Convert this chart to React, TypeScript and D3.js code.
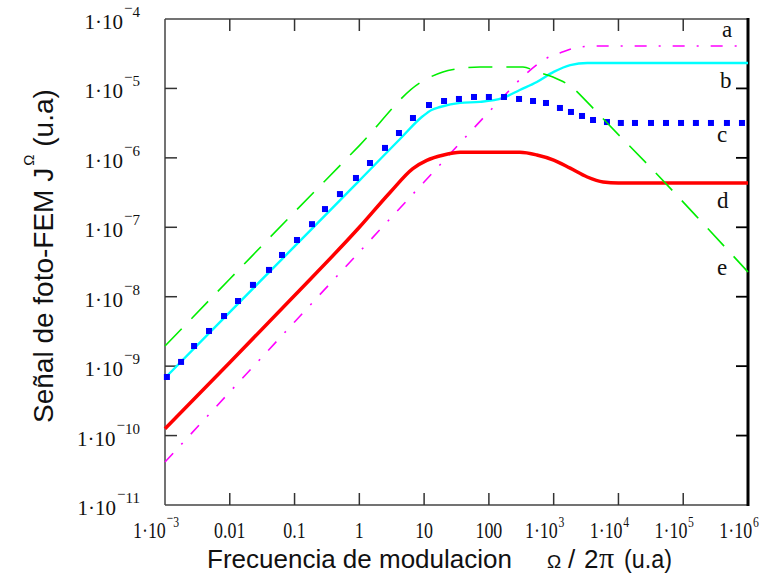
import React from "react";
import * as d3 from "d3";

// Modulation frequency (u.a) and photo-EMF signal (u.a) for each trace
const freqA = [1e-3, 0.01, 0.1, 1, 10, 100, 165, 387, 789, 1250, 2550, 5190, 1e6];
const sigA = [4.16e-11, 4.25e-10, 4.33e-9, 4.41e-8, 4.49e-7, 4.58e-6, 7.5e-6, 1.67e-5, 2.74e-5, 3.24e-5, 3.95e-5, 4.09e-5, 4.09e-5];

const freqB = [1e-3, 0.01, 0.1, 1, 4.25, 9.6, 13, 17.6, 36, 73, 165, 300, 550, 1000, 1800, 3300, 1e6];
const sigB = [6.75e-10, 6.0e-9, 5.3e-8, 4.7e-7, 1.87e-6, 4.0e-6, 4.9e-6, 5.4e-6, 6.2e-6, 6.4e-6, 7.3e-6, 9.5e-6, 1.24e-5, 1.73e-5, 2.17e-5, 2.32e-5, 2.32e-5];

const freqC = [
  1.07e-3, 1.77e-3, 2.81e-3, 4.78e-3, 8.15e-3, 0.0134, 0.0228, 0.0403, 0.064, 0.109,
  0.186, 0.295, 0.502, 0.887, 1.46, 2.49, 4.09, 6.73, 11.9, 20.3,
  34.5, 58.9, 100, 171, 292, 480, 761, 1250, 1850, 2740,
  4050, 6650, 1.09e4, 1.8e4, 3.18e4, 5.42e4, 9.25e4, 1.57e5, 2.68e5, 4.73e5, 8.07e5,
];
const sigC = [
  6.98e-10, 1.15e-9, 1.95e-9, 3.21e-9, 5.27e-9, 8.67e-9, 1.48e-8, 2.43e-8, 3.99e-8, 6.56e-8,
  1.11e-7, 1.83e-7, 3.01e-7, 5.13e-7, 8.43e-7, 1.39e-6, 2.28e-6, 3.75e-6, 5.77e-6, 6.59e-6,
  7.05e-6, 7.53e-6, 7.53e-6, 7.53e-6, 7.05e-6, 6.59e-6, 6.17e-6, 5.23e-6, 4.58e-6, 4.01e-6,
  3.51e-6, 3.28e-6, 3.18e-6, 3.18e-6, 3.18e-6, 3.18e-6, 3.18e-6, 3.18e-6, 3.18e-6, 3.18e-6, 3.18e-6,
];

const freqD = [1e-3, 0.01, 0.1, 1, 3, 6.7, 11, 20, 36, 300, 550, 1000, 1800, 3300, 5800, 1e4, 1e6];
const sigD = [1.25e-10, 1.13e-9, 1.04e-8, 1.0e-7, 3.2e-7, 7.0e-7, 9.2e-7, 1.1e-6, 1.2e-6, 1.2e-6, 1.1e-6, 9.3e-7, 7.1e-7, 5.3e-7, 4.5e-7, 4.35e-7, 4.35e-7];

const freqE = [1e-3, 0.01, 0.1, 1, 8.6, 19.5, 32, 73, 336, 553, 975, 1990, 3270, 6650, 3.4e4, 2.0e5, 1e6];
const sigE = [1.95e-9, 1.8e-8, 1.66e-7, 1.5e-6, 1.2e-5, 1.73e-5, 1.91e-5, 2.04e-5, 2.04e-5, 1.73e-5, 1.46e-5, 1.01e-5, 6.4e-6, 3.2e-6, 6.7e-7, 1.15e-7, 2.27e-8];

// Trace names, placed at the right edge at these signal levels
const curveNames = ["a", "b", "c", "d", "e"];
const curveNameSignal = [5.5e-5, 1.0e-5, 1.69e-6, 1.9e-7, 2.06e-8];

const xTickValues = [1e-3, 1e-2, 1e-1, 1, 10, 100, 1e3, 1e4, 1e5, 1e6];
const xTickBase = ["1·10", "0.01", "0.1", "1", "10", "100", "1·10", "1·10", "1·10", "1·10"];
const xTickExp = ["−3", "", "", "", "", "", "3", "4", "5", "6"];

const yTickValues = [1e-11, 1e-10, 1e-9, 1e-8, 1e-7, 1e-6, 1e-5, 1e-4];
const yTickExp = ["−11", "−10", "−9", "−8", "−7", "−6", "−5", "−4"];

const W = 767;
const H = 584;
const X0 = 165;
const X1 = 748;
const Y0 = 19;
const Y1 = 505;
const TICK = 12;

const x = d3.scaleLog().domain([1e-3, 1e6]).range([X0, X1]);
const y = d3.scaleLog().domain([1e-11, 1e-4]).range([Y1, Y0]);

const zip = (f: number[], s: number[]) => f.map((v, i) => [v, s[i]] as [number, number]);

const line = d3
  .line<[number, number]>()
  .x((d) => x(d[0]))
  .y((d) => y(d[1]))
  .curve(d3.curveMonotoneX);

const serif = "'Liberation Serif', 'Times New Roman', serif";
const sans = "'Liberation Sans', Arial, sans-serif";

function Exponent({ exp, size, rise }: { exp: string; size: number; rise: number }) {
  if (!exp) return null;
  const neg = exp.startsWith("−");
  const digits = neg ? exp.slice(1) : exp;
  if (neg) {
    return (
      <>
        <tspan fontSize={size} dy={-(rise + 4)} dx={1}>
          −
        </tspan>
        <tspan fontSize={size} dy={4}>
          {digits}
        </tspan>
      </>
    );
  }
  return (
    <tspan fontSize={size} dy={-rise} dx={1}>
      {digits}
    </tspan>
  );
}

export default function App() {
  const inner = xTickValues.slice(1, -1);
  const innerY = yTickValues.slice(1, -1);

  return (
    <svg
      width={W}
      height={H}
      style={{ position: "absolute", left: 0, top: 0, background: "#fff" }}
    >
      <rect width={W} height={H} fill="#fff" />

      {/* frame */}
      <line x1={X0} y1={Y0} x2={X1} y2={Y0} stroke="#444" strokeWidth={1.5} />
      <line x1={X0} y1={Y1} x2={X1} y2={Y1} stroke="#444" strokeWidth={1.5} />
      <line x1={X0} y1={Y0} x2={X0} y2={Y1} stroke="#444" strokeWidth={1.5} />
      <line x1={X1} y1={Y0 - 1} x2={X1} y2={Y1 + 1} stroke="#000" strokeWidth={3} />

      {/* ticks */}
      {inner.map((v) => (
        <g key={"xt" + v}>
          <line x1={x(v)} x2={x(v)} y1={Y1} y2={Y1 - TICK} stroke="#333" strokeWidth={1.5} />
          <line x1={x(v)} x2={x(v)} y1={Y0} y2={Y0 + TICK} stroke="#333" strokeWidth={1.5} />
        </g>
      ))}
      {innerY.map((v) => (
        <g key={"yt" + v}>
          <line x1={X0} x2={X0 + TICK} y1={y(v)} y2={y(v)} stroke="#333" strokeWidth={1.5} />
          <line x1={X1} x2={X1 - TICK} y1={y(v)} y2={y(v)} stroke="#000" strokeWidth={1.8} />
        </g>
      ))}

      {/* y tick labels */}
      {yTickValues.map((v, i) => (
        <text
          key={"yl" + v}
          x={140}
          y={y(v) + 10}
          textAnchor="end"
          fontFamily={serif}
          fontSize={21}
          fill="#111"
        >
          1·10
          <Exponent exp={yTickExp[i]} size={15} rise={12} />
        </text>
      ))}

      {/* x tick labels */}
      {xTickValues.map((v, i) => {
        const cx = xTickExp[i] ? x(v) - 9 : x(v);
        return (
          <text
            key={"xl" + v}
            transform={`translate(${cx},${538}) scale(0.78,1)`}
            textAnchor="middle"
            fontFamily={serif}
            fontSize={23}
            fill="#111"
          >
            {xTickBase[i]}
            <Exponent exp={xTickExp[i]} size={15} rise={11} />
          </text>
        );
      })}

      {/* axis titles */}
      <text x={207} y={568} fontFamily={sans} fontSize={26} fill="#111">
        Frecuencia de modulacion
      </text>
      <text x={547} y={568} fontFamily={sans} fontSize={19} fill="#111">
        Ω
      </text>
      <text x={568} y={568} fontFamily={sans} fontSize={26} fill="#111">
        /
      </text>
      <text x={584} y={568} fontFamily={sans} fontSize={26} fill="#111">
        2
      </text>
      <text x={599} y={568} fontFamily={serif} fontSize={30} fill="#111">
        π
      </text>
      <text x={624} y={568} fontFamily={sans} fontSize={26} textLength={48} lengthAdjust="spacingAndGlyphs" fill="#111">
        (u.a)
      </text>

      <text
        transform="translate(53,423) rotate(-90)"
        fontFamily={sans}
        fontSize={28}
        fill="#111"
      >
        Señal de foto-FEM J
        <tspan fontSize={15} dy={-19} dx={2}>
          Ω
        </tspan>
        <tspan dy={19}> (u.a)</tspan>
      </text>

      {/* traces */}
      <path d={line(zip(freqB, sigB)) ?? ""} fill="none" stroke="#00ffff" strokeWidth={2.4} />
      <path
        d={line(zip(freqA, sigA)) ?? ""}
        fill="none"
        stroke="#ff00ff"
        strokeWidth={1.6}
        strokeDasharray="12,12,2,12"
      />
      {freqC.map((f, i) => (
        <rect
          key={"c" + i}
          x={x(f) - 3}
          y={y(sigC[i]) - 3}
          width={6}
          height={6}
          fill="#0000ff"
        />
      ))}
      <path d={line(zip(freqD, sigD)) ?? ""} fill="none" stroke="#ff0000" strokeWidth={3.5} />
      <path
        d={line(zip(freqE, sigE)) ?? ""}
        fill="none"
        stroke="#00ee00"
        strokeWidth={1.6}
        strokeDasharray="24,14"
      />

      {/* trace names */}
      {curveNames.map((n, i) => (
        <text
          key={n}
          x={i === 0 ? 722 : i === 1 ? 720 : 717}
          y={y(curveNameSignal[i])}
          fontFamily={serif}
          fontSize={23}
          fill="#111"
        >
          {n}
        </text>
      ))}
    </svg>
  );
}
